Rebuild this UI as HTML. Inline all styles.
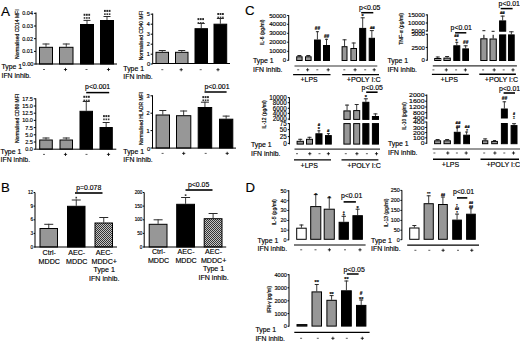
<!DOCTYPE html>
<html><head><meta charset="utf-8"><style>
html,body{margin:0;padding:0;background:#fff;}
body{width:520px;height:341px;overflow:hidden;}
svg{display:block;font-family:"Liberation Sans", sans-serif;}
text{stroke:#000;stroke-width:0.15px;}
.vt{stroke-width:0.18px;}
</style></head><body>
<svg width="520" height="341" viewBox="0 0 520 341">
<defs><pattern id="hatch" width="2" height="2" patternUnits="userSpaceOnUse"><rect width="2" height="2" fill="#c4c4c4"/><rect width="1" height="1" fill="#333"/><rect x="1" y="1" width="1" height="1" fill="#333"/></pattern></defs>
<rect width="520" height="341" fill="#fff"/>
<text x="0.9" y="16.2" font-size="13.5">A</text>
<line x1="36" y1="12.5" x2="36" y2="64.5" stroke="#000" stroke-width="1"/>
<line x1="34" y1="13.3" x2="36" y2="13.3" stroke="#000" stroke-width="1"/>
<text x="33" y="15.23" font-size="5.5" text-anchor="end">0.04</text>
<line x1="34" y1="26" x2="36" y2="26" stroke="#000" stroke-width="1"/>
<text x="33" y="27.93" font-size="5.5" text-anchor="end">0.03</text>
<line x1="34" y1="38.7" x2="36" y2="38.7" stroke="#000" stroke-width="1"/>
<text x="33" y="40.62" font-size="5.5" text-anchor="end">0.02</text>
<line x1="34" y1="51.4" x2="36" y2="51.4" stroke="#000" stroke-width="1"/>
<text x="33" y="53.32" font-size="5.5" text-anchor="end">0.01</text>
<line x1="34" y1="64" x2="36" y2="64" stroke="#000" stroke-width="1"/>
<text x="33.6" y="66.1" font-size="5.8" text-anchor="end">0.00</text>
<text class="vt" transform="translate(19 34.2) rotate(-90)" font-size="5" text-anchor="middle">Normalised CD14 MFI</text>
<line x1="46" y1="46.8" x2="46" y2="43.5" stroke="#3a3a3a" stroke-width="1"/>
<line x1="42.5" y1="44" x2="49.5" y2="44" stroke="#2a2a2a" stroke-width="1"/>
<rect x="39.5" y="47.3" width="13" height="16.7" fill="#979797" stroke="#000" stroke-width="1"/>
<line x1="66.25" y1="46.8" x2="66.25" y2="43.5" stroke="#3a3a3a" stroke-width="1"/>
<line x1="62.75" y1="44" x2="69.75" y2="44" stroke="#2a2a2a" stroke-width="1"/>
<rect x="59.5" y="47.3" width="13.5" height="16.7" fill="#979797" stroke="#000" stroke-width="1"/>
<line x1="87" y1="24" x2="87" y2="19.9" stroke="#3a3a3a" stroke-width="1"/>
<line x1="83.5" y1="20.4" x2="90.5" y2="20.4" stroke="#2a2a2a" stroke-width="1"/>
<rect x="80.5" y="24.5" width="13" height="39.5" fill="#000" stroke="#000" stroke-width="1"/>
<line x1="107" y1="20" x2="107" y2="16" stroke="#3a3a3a" stroke-width="1"/>
<line x1="103.5" y1="16.5" x2="110.5" y2="16.5" stroke="#2a2a2a" stroke-width="1"/>
<rect x="100.5" y="20.5" width="13" height="43.5" fill="#000" stroke="#000" stroke-width="1"/>
<line x1="36" y1="64" x2="117" y2="64" stroke="#000" stroke-width="1"/>
<rect x="83.6" y="13.8" width="1.8" height="2" fill="#2a2a2a"/>
<rect x="85.95" y="13.8" width="1.8" height="2" fill="#2a2a2a"/>
<rect x="88.3" y="13.8" width="1.8" height="2" fill="#2a2a2a"/>
<rect x="83.7" y="17.1" width="1.6" height="1.7" fill="#3a3a3a"/>
<rect x="86.05" y="17.1" width="1.6" height="1.7" fill="#3a3a3a"/>
<rect x="88.4" y="17.1" width="1.6" height="1.7" fill="#3a3a3a"/>
<rect x="104" y="9.9" width="1.8" height="2" fill="#2a2a2a"/>
<rect x="106.35" y="9.9" width="1.8" height="2" fill="#2a2a2a"/>
<rect x="108.7" y="9.9" width="1.8" height="2" fill="#2a2a2a"/>
<rect x="104.1" y="13.3" width="1.6" height="1.7" fill="#3a3a3a"/>
<rect x="106.45" y="13.3" width="1.6" height="1.7" fill="#3a3a3a"/>
<rect x="108.8" y="13.3" width="1.6" height="1.7" fill="#3a3a3a"/>
<text x="1.5" y="68.8" font-size="6.9">Type 1</text>
<text x="1.5" y="77.5" font-size="6.9">IFN inhib.</text>
<line x1="43" y1="69.5" x2="45" y2="69.5" stroke="#333" stroke-width="0.8"/>
<line x1="63.9" y1="69.5" x2="67.1" y2="69.5" stroke="#000" stroke-width="0.8"/>
<line x1="65.5" y1="67.9" x2="65.5" y2="71.1" stroke="#000" stroke-width="0.8"/>
<line x1="85.5" y1="69.5" x2="87.5" y2="69.5" stroke="#333" stroke-width="0.8"/>
<line x1="106.9" y1="69.5" x2="110.1" y2="69.5" stroke="#000" stroke-width="0.8"/>
<line x1="108.5" y1="67.9" x2="108.5" y2="71.1" stroke="#000" stroke-width="0.8"/>
<line x1="152.7" y1="13.5" x2="152.7" y2="64" stroke="#000" stroke-width="1"/>
<line x1="150.7" y1="14.2" x2="152.7" y2="14.2" stroke="#000" stroke-width="1"/>
<text x="149.9" y="16.12" font-size="5.5" text-anchor="end">5</text>
<line x1="150.7" y1="24.2" x2="152.7" y2="24.2" stroke="#000" stroke-width="1"/>
<text x="149.9" y="26.12" font-size="5.5" text-anchor="end">4</text>
<line x1="150.7" y1="34.2" x2="152.7" y2="34.2" stroke="#000" stroke-width="1"/>
<text x="149.9" y="36.12" font-size="5.5" text-anchor="end">3</text>
<line x1="150.7" y1="44.2" x2="152.7" y2="44.2" stroke="#000" stroke-width="1"/>
<text x="149.9" y="46.12" font-size="5.5" text-anchor="end">2</text>
<line x1="150.7" y1="54.2" x2="152.7" y2="54.2" stroke="#000" stroke-width="1"/>
<text x="149.9" y="56.12" font-size="5.5" text-anchor="end">1</text>
<line x1="150.7" y1="64" x2="152.7" y2="64" stroke="#000" stroke-width="1"/>
<text x="150.3" y="65.5" font-size="5.8" text-anchor="end">0</text>
<text class="vt" transform="translate(142.6 35.6) rotate(-90)" font-size="5" text-anchor="middle">Normalised CD40 MFI</text>
<line x1="162.25" y1="51.8" x2="162.25" y2="50" stroke="#3a3a3a" stroke-width="1"/>
<line x1="158.75" y1="50.5" x2="165.75" y2="50.5" stroke="#2a2a2a" stroke-width="1"/>
<rect x="156" y="52.3" width="12.5" height="11.2" fill="#979797" stroke="#000" stroke-width="1"/>
<line x1="181.75" y1="51.8" x2="181.75" y2="50" stroke="#3a3a3a" stroke-width="1"/>
<line x1="178.25" y1="50.5" x2="185.25" y2="50.5" stroke="#2a2a2a" stroke-width="1"/>
<rect x="175.5" y="52.3" width="12.5" height="11.2" fill="#979797" stroke="#000" stroke-width="1"/>
<line x1="201.25" y1="28.2" x2="201.25" y2="23" stroke="#3a3a3a" stroke-width="1"/>
<line x1="197.75" y1="23.5" x2="204.75" y2="23.5" stroke="#2a2a2a" stroke-width="1"/>
<rect x="195" y="28.7" width="12.5" height="34.8" fill="#000" stroke="#000" stroke-width="1"/>
<line x1="220.35" y1="23.7" x2="220.35" y2="18" stroke="#3a3a3a" stroke-width="1"/>
<line x1="216.85" y1="18.5" x2="223.85" y2="18.5" stroke="#2a2a2a" stroke-width="1"/>
<rect x="214" y="24.2" width="12.7" height="39.3" fill="#000" stroke="#000" stroke-width="1"/>
<line x1="152.7" y1="63.5" x2="230" y2="63.5" stroke="#000" stroke-width="1"/>
<rect x="197.5" y="18.1" width="1.8" height="2" fill="#2a2a2a"/>
<rect x="199.85" y="18.1" width="1.8" height="2" fill="#2a2a2a"/>
<rect x="202.2" y="18.1" width="1.8" height="2" fill="#2a2a2a"/>
<rect x="197.6" y="22.1" width="1.6" height="1.7" fill="#3a3a3a"/>
<rect x="199.95" y="22.1" width="1.6" height="1.7" fill="#3a3a3a"/>
<rect x="202.3" y="22.1" width="1.6" height="1.7" fill="#3a3a3a"/>
<rect x="217.3" y="13" width="1.8" height="2" fill="#2a2a2a"/>
<rect x="219.65" y="13" width="1.8" height="2" fill="#2a2a2a"/>
<rect x="222" y="13" width="1.8" height="2" fill="#2a2a2a"/>
<rect x="217.4" y="16.6" width="1.6" height="1.7" fill="#3a3a3a"/>
<rect x="219.75" y="16.6" width="1.6" height="1.7" fill="#3a3a3a"/>
<rect x="222.1" y="16.6" width="1.6" height="1.7" fill="#3a3a3a"/>
<text x="123.3" y="70.6" font-size="6.9">Type 1</text>
<text x="123.3" y="78.6" font-size="6.9">IFN inhib.</text>
<line x1="161.3" y1="69.7" x2="163.3" y2="69.7" stroke="#333" stroke-width="0.8"/>
<line x1="179.6" y1="69.7" x2="182.8" y2="69.7" stroke="#000" stroke-width="0.8"/>
<line x1="181.2" y1="68.1" x2="181.2" y2="71.3" stroke="#000" stroke-width="0.8"/>
<line x1="199.7" y1="69.7" x2="201.7" y2="69.7" stroke="#333" stroke-width="0.8"/>
<line x1="216.4" y1="69.7" x2="219.6" y2="69.7" stroke="#000" stroke-width="0.8"/>
<line x1="218" y1="68.1" x2="218" y2="71.3" stroke="#000" stroke-width="0.8"/>
<line x1="35.8" y1="98.3" x2="35.8" y2="149.6" stroke="#000" stroke-width="1"/>
<line x1="33.8" y1="98.8" x2="35.8" y2="98.8" stroke="#000" stroke-width="1"/>
<text x="32.9" y="100.72" font-size="5.5" text-anchor="end">17.5</text>
<line x1="33.8" y1="106" x2="35.8" y2="106" stroke="#000" stroke-width="1"/>
<text x="32.9" y="107.92" font-size="5.5" text-anchor="end">15.0</text>
<line x1="33.8" y1="113.2" x2="35.8" y2="113.2" stroke="#000" stroke-width="1"/>
<text x="32.9" y="115.12" font-size="5.5" text-anchor="end">12.5</text>
<line x1="33.8" y1="120.4" x2="35.8" y2="120.4" stroke="#000" stroke-width="1"/>
<text x="32.9" y="122.33" font-size="5.5" text-anchor="end">10.0</text>
<line x1="33.8" y1="127.6" x2="35.8" y2="127.6" stroke="#000" stroke-width="1"/>
<text x="32.9" y="129.53" font-size="5.5" text-anchor="end">7.5</text>
<line x1="33.8" y1="134.8" x2="35.8" y2="134.8" stroke="#000" stroke-width="1"/>
<text x="32.9" y="136.73" font-size="5.5" text-anchor="end">5.0</text>
<line x1="33.8" y1="142" x2="35.8" y2="142" stroke="#000" stroke-width="1"/>
<text x="32.9" y="143.93" font-size="5.5" text-anchor="end">2.5</text>
<line x1="33.8" y1="149.2" x2="35.8" y2="149.2" stroke="#000" stroke-width="1"/>
<text x="32.9" y="151.2" font-size="5.5" text-anchor="end">0.0</text>
<text class="vt" transform="translate(19.4 118.4) rotate(-90)" font-size="4.96" text-anchor="middle">Normalised CD80 MFI</text>
<line x1="46" y1="139.5" x2="46" y2="137.5" stroke="#3a3a3a" stroke-width="1"/>
<line x1="42.5" y1="138" x2="49.5" y2="138" stroke="#2a2a2a" stroke-width="1"/>
<rect x="39.7" y="140" width="12.6" height="9.1" fill="#979797" stroke="#000" stroke-width="1"/>
<line x1="66.25" y1="139.5" x2="66.25" y2="137.5" stroke="#3a3a3a" stroke-width="1"/>
<line x1="62.75" y1="138" x2="69.75" y2="138" stroke="#2a2a2a" stroke-width="1"/>
<rect x="60" y="140" width="12.5" height="9.1" fill="#979797" stroke="#000" stroke-width="1"/>
<line x1="86.25" y1="110.8" x2="86.25" y2="101" stroke="#3a3a3a" stroke-width="1"/>
<line x1="82.75" y1="101.5" x2="89.75" y2="101.5" stroke="#2a2a2a" stroke-width="1"/>
<rect x="80" y="111.3" width="12.5" height="37.8" fill="#000" stroke="#000" stroke-width="1"/>
<line x1="106.15" y1="127" x2="106.15" y2="122" stroke="#3a3a3a" stroke-width="1"/>
<line x1="102.65" y1="122.5" x2="109.65" y2="122.5" stroke="#2a2a2a" stroke-width="1"/>
<rect x="100" y="127.5" width="12.3" height="21.6" fill="#000" stroke="#000" stroke-width="1"/>
<line x1="36.2" y1="149.2" x2="116.3" y2="149.2" stroke="#000" stroke-width="1"/>
<rect x="83.3" y="95.8" width="1.8" height="2" fill="#2a2a2a"/>
<rect x="85.65" y="95.8" width="1.8" height="2" fill="#2a2a2a"/>
<rect x="88" y="95.8" width="1.8" height="2" fill="#2a2a2a"/>
<rect x="83.4" y="99.6" width="1.6" height="1.7" fill="#3a3a3a"/>
<rect x="85.75" y="99.6" width="1.6" height="1.7" fill="#3a3a3a"/>
<rect x="88.1" y="99.6" width="1.6" height="1.7" fill="#3a3a3a"/>
<rect x="103.05" y="115.1" width="1.8" height="2" fill="#2a2a2a"/>
<rect x="105.4" y="115.1" width="1.8" height="2" fill="#2a2a2a"/>
<rect x="107.75" y="115.1" width="1.8" height="2" fill="#2a2a2a"/>
<rect x="103.15" y="118.5" width="1.6" height="1.7" fill="#3a3a3a"/>
<rect x="105.5" y="118.5" width="1.6" height="1.7" fill="#3a3a3a"/>
<rect x="107.85" y="118.5" width="1.6" height="1.7" fill="#3a3a3a"/>
<text x="85.1" y="89" font-size="6.9">p&lt;0.001</text>
<line x1="86.2" y1="92.6" x2="109.2" y2="92.6" stroke="#000" stroke-width="1.5"/>
<text x="0.6" y="153.7" font-size="6.9">Type 1</text>
<text x="0.6" y="162" font-size="6.9">IFN inhib.</text>
<line x1="43" y1="154.4" x2="45" y2="154.4" stroke="#333" stroke-width="0.8"/>
<line x1="63.9" y1="154.4" x2="67.1" y2="154.4" stroke="#000" stroke-width="0.8"/>
<line x1="65.5" y1="152.8" x2="65.5" y2="156" stroke="#000" stroke-width="0.8"/>
<line x1="85.5" y1="154.4" x2="87.5" y2="154.4" stroke="#333" stroke-width="0.8"/>
<line x1="106.9" y1="154.4" x2="110.1" y2="154.4" stroke="#000" stroke-width="0.8"/>
<line x1="108.5" y1="152.8" x2="108.5" y2="156" stroke="#000" stroke-width="0.8"/>
<line x1="152.5" y1="95.3" x2="152.5" y2="148.5" stroke="#000" stroke-width="1"/>
<line x1="150.5" y1="95.8" x2="152.5" y2="95.8" stroke="#000" stroke-width="1"/>
<text x="149.7" y="97.76" font-size="5.6" text-anchor="end">3</text>
<line x1="150.5" y1="113.2" x2="152.5" y2="113.2" stroke="#000" stroke-width="1"/>
<text x="149.7" y="115.16" font-size="5.6" text-anchor="end">2</text>
<line x1="150.5" y1="130.6" x2="152.5" y2="130.6" stroke="#000" stroke-width="1"/>
<text x="149.7" y="132.56" font-size="5.6" text-anchor="end">1</text>
<line x1="150.5" y1="148" x2="152.5" y2="148" stroke="#000" stroke-width="1"/>
<text x="150.2" y="150.8" font-size="5.8" text-anchor="end">0</text>
<text class="vt" transform="translate(142.6 118.6) rotate(-90)" font-size="4.95" text-anchor="middle">Normalised HLADR MFI</text>
<line x1="162.8" y1="114.5" x2="162.8" y2="110" stroke="#3a3a3a" stroke-width="1"/>
<line x1="159.3" y1="110.5" x2="166.3" y2="110.5" stroke="#2a2a2a" stroke-width="1"/>
<rect x="156.1" y="115" width="13.4" height="33" fill="#979797" stroke="#000" stroke-width="1"/>
<line x1="183.65" y1="115.2" x2="183.65" y2="110.5" stroke="#3a3a3a" stroke-width="1"/>
<line x1="180.15" y1="111" x2="187.15" y2="111" stroke="#2a2a2a" stroke-width="1"/>
<rect x="176.5" y="115.7" width="14.3" height="32.3" fill="#979797" stroke="#000" stroke-width="1"/>
<line x1="204.95" y1="107" x2="204.95" y2="101.7" stroke="#3a3a3a" stroke-width="1"/>
<line x1="200.95" y1="102.2" x2="208.95" y2="102.2" stroke="#2a2a2a" stroke-width="1"/>
<rect x="198.2" y="107.5" width="13.5" height="40.5" fill="#000" stroke="#000" stroke-width="1"/>
<line x1="226.15" y1="118.7" x2="226.15" y2="115.6" stroke="#3a3a3a" stroke-width="1"/>
<line x1="222.65" y1="116.1" x2="229.65" y2="116.1" stroke="#2a2a2a" stroke-width="1"/>
<rect x="219.5" y="119.2" width="13.3" height="28.8" fill="#000" stroke="#000" stroke-width="1"/>
<line x1="152.5" y1="148.1" x2="236" y2="148.1" stroke="#000" stroke-width="1"/>
<rect x="202.35" y="96.1" width="1.8" height="2" fill="#2a2a2a"/>
<rect x="204.7" y="96.1" width="1.8" height="2" fill="#2a2a2a"/>
<rect x="207.05" y="96.1" width="1.8" height="2" fill="#2a2a2a"/>
<rect x="202.45" y="99.4" width="1.6" height="1.7" fill="#3a3a3a"/>
<rect x="204.8" y="99.4" width="1.6" height="1.7" fill="#3a3a3a"/>
<rect x="207.15" y="99.4" width="1.6" height="1.7" fill="#3a3a3a"/>
<text x="204.4" y="88.5" font-size="6.9">p&lt;0.001</text>
<line x1="204.5" y1="92" x2="226.6" y2="92" stroke="#000" stroke-width="1.5"/>
<text x="123.3" y="153.8" font-size="6.9">Type 1</text>
<text x="123.3" y="162.1" font-size="6.9">IFN inhib.</text>
<line x1="161.6" y1="153.4" x2="163.6" y2="153.4" stroke="#333" stroke-width="0.8"/>
<line x1="182.1" y1="153.4" x2="185.3" y2="153.4" stroke="#000" stroke-width="0.8"/>
<line x1="183.7" y1="151.8" x2="183.7" y2="155" stroke="#000" stroke-width="0.8"/>
<line x1="204.7" y1="153.4" x2="206.7" y2="153.4" stroke="#333" stroke-width="0.8"/>
<line x1="225.6" y1="153.4" x2="228.8" y2="153.4" stroke="#000" stroke-width="0.8"/>
<line x1="227.2" y1="151.8" x2="227.2" y2="155" stroke="#000" stroke-width="0.8"/>
<text x="0.9" y="191.9" font-size="13.2">B</text>
<line x1="35" y1="192.5" x2="35" y2="247.5" stroke="#000" stroke-width="1"/>
<line x1="33.6" y1="192.5" x2="35" y2="192.5" stroke="#000" stroke-width="1"/>
<text x="33.1" y="194.11" font-size="4.6" text-anchor="end">12</text>
<line x1="33.6" y1="206.1" x2="35" y2="206.1" stroke="#000" stroke-width="1"/>
<text x="33.1" y="207.71" font-size="4.6" text-anchor="end">9</text>
<line x1="33.6" y1="219.8" x2="35" y2="219.8" stroke="#000" stroke-width="1"/>
<text x="33.1" y="221.41" font-size="4.6" text-anchor="end">6</text>
<line x1="33.6" y1="233.4" x2="35" y2="233.4" stroke="#000" stroke-width="1"/>
<text x="33.1" y="235.01" font-size="4.6" text-anchor="end">3</text>
<line x1="33.6" y1="247" x2="35" y2="247" stroke="#000" stroke-width="1"/>
<text x="33.1" y="248.61" font-size="4.6" text-anchor="end">0</text>
<line x1="48.75" y1="228" x2="48.75" y2="223.8" stroke="#3a3a3a" stroke-width="1"/>
<line x1="44.25" y1="224.3" x2="53.25" y2="224.3" stroke="#2a2a2a" stroke-width="1"/>
<rect x="40" y="228.5" width="17.5" height="18.5" fill="#979797" stroke="#000" stroke-width="1"/>
<line x1="76.25" y1="205.8" x2="76.25" y2="199.5" stroke="#3a3a3a" stroke-width="1"/>
<line x1="71.75" y1="200" x2="80.75" y2="200" stroke="#2a2a2a" stroke-width="1"/>
<rect x="67.5" y="206.3" width="17.5" height="40.7" fill="#000" stroke="#000" stroke-width="1"/>
<line x1="103.75" y1="222.5" x2="103.75" y2="217" stroke="#3a3a3a" stroke-width="1"/>
<line x1="99.25" y1="217.5" x2="108.25" y2="217.5" stroke="#2a2a2a" stroke-width="1"/>
<rect x="95" y="223" width="17.5" height="24" fill="url(#hatch)" stroke="#000" stroke-width="1"/>
<line x1="35" y1="247" x2="117" y2="247" stroke="#000" stroke-width="1"/>
<rect x="75.45" y="196.8" width="1.6" height="1.7" fill="#3a3a3a"/>
<text x="76.2" y="189.6" font-size="6.9">p=0.078</text>
<line x1="75" y1="193" x2="102.5" y2="193" stroke="#000" stroke-width="1.6"/>
<text x="49.25" y="255" font-size="7.1" text-anchor="middle">Ctrl-</text>
<text x="49.25" y="263.55" font-size="7.1" text-anchor="middle">MDDC</text>
<text x="76.75" y="255" font-size="7.1" text-anchor="middle">AEC-</text>
<text x="76.75" y="263.55" font-size="7.1" text-anchor="middle">MDDC</text>
<text x="104.25" y="255" font-size="7.1" text-anchor="middle">AEC-</text>
<text x="104.25" y="263.55" font-size="7.1" text-anchor="middle">MDDC+</text>
<text x="104.25" y="272.1" font-size="7.1" text-anchor="middle">Type 1</text>
<text x="104.25" y="280.65" font-size="7.1" text-anchor="middle">IFN inhib.</text>
<line x1="144.2" y1="192.5" x2="144.2" y2="247.5" stroke="#000" stroke-width="1"/>
<line x1="142.8" y1="192.5" x2="144.2" y2="192.5" stroke="#000" stroke-width="1"/>
<text x="142.3" y="194.11" font-size="4.6" text-anchor="end">200</text>
<line x1="142.8" y1="206.1" x2="144.2" y2="206.1" stroke="#000" stroke-width="1"/>
<text x="142.3" y="207.71" font-size="4.6" text-anchor="end">150</text>
<line x1="142.8" y1="219.8" x2="144.2" y2="219.8" stroke="#000" stroke-width="1"/>
<text x="142.3" y="221.41" font-size="4.6" text-anchor="end">100</text>
<line x1="142.8" y1="233.4" x2="144.2" y2="233.4" stroke="#000" stroke-width="1"/>
<text x="142.3" y="235.01" font-size="4.6" text-anchor="end">50</text>
<line x1="142.8" y1="247" x2="144.2" y2="247" stroke="#000" stroke-width="1"/>
<text x="142.3" y="248.61" font-size="4.6" text-anchor="end">0</text>
<line x1="158.1" y1="223.8" x2="158.1" y2="219.3" stroke="#3a3a3a" stroke-width="1"/>
<line x1="153.6" y1="219.8" x2="162.6" y2="219.8" stroke="#2a2a2a" stroke-width="1"/>
<rect x="149.2" y="224.3" width="17.8" height="22.7" fill="#979797" stroke="#000" stroke-width="1"/>
<line x1="185.6" y1="203.8" x2="185.6" y2="197" stroke="#3a3a3a" stroke-width="1"/>
<line x1="181.1" y1="197.5" x2="190.1" y2="197.5" stroke="#2a2a2a" stroke-width="1"/>
<rect x="176.7" y="204.3" width="17.8" height="42.7" fill="#000" stroke="#000" stroke-width="1"/>
<line x1="213.1" y1="218.2" x2="213.1" y2="213" stroke="#3a3a3a" stroke-width="1"/>
<line x1="208.6" y1="213.5" x2="217.6" y2="213.5" stroke="#2a2a2a" stroke-width="1"/>
<rect x="204.2" y="218.7" width="17.8" height="28.3" fill="url(#hatch)" stroke="#000" stroke-width="1"/>
<line x1="144.2" y1="247" x2="226.2" y2="247" stroke="#000" stroke-width="1"/>
<rect x="184.8" y="194.3" width="1.6" height="1.7" fill="#3a3a3a"/>
<text x="188" y="186.6" font-size="6.9">p&lt;0.05</text>
<line x1="185.5" y1="190" x2="212.5" y2="190" stroke="#000" stroke-width="1.6"/>
<text x="158.6" y="254" font-size="7.1" text-anchor="middle">Ctrl-</text>
<text x="158.6" y="262.55" font-size="7.1" text-anchor="middle">MDDC</text>
<text x="186.1" y="254" font-size="7.1" text-anchor="middle">AEC-</text>
<text x="186.1" y="262.55" font-size="7.1" text-anchor="middle">MDDC</text>
<text x="213.6" y="254" font-size="7.1" text-anchor="middle">AEC-</text>
<text x="213.6" y="262.55" font-size="7.1" text-anchor="middle">MDDC+</text>
<text x="213.6" y="271.1" font-size="7.1" text-anchor="middle">Type 1</text>
<text x="213.6" y="279.65" font-size="7.1" text-anchor="middle">IFN inhib.</text>
<text x="245.1" y="15.4" font-size="13.2">C</text>
<line x1="288.7" y1="15.2" x2="288.7" y2="60.6" stroke="#000" stroke-width="1"/>
<line x1="287.2" y1="15.5" x2="288.7" y2="15.5" stroke="#000" stroke-width="1"/>
<text x="286.1" y="17.63" font-size="6.1" text-anchor="end">50000</text>
<line x1="287.2" y1="24.3" x2="288.7" y2="24.3" stroke="#000" stroke-width="1"/>
<text x="286.1" y="26.44" font-size="6.1" text-anchor="end">40000</text>
<line x1="287.2" y1="33.3" x2="288.7" y2="33.3" stroke="#000" stroke-width="1"/>
<text x="286.1" y="35.43" font-size="6.1" text-anchor="end">30000</text>
<line x1="287.2" y1="42.2" x2="288.7" y2="42.2" stroke="#000" stroke-width="1"/>
<text x="286.1" y="44.34" font-size="6.1" text-anchor="end">20000</text>
<line x1="287.2" y1="51.3" x2="288.7" y2="51.3" stroke="#000" stroke-width="1"/>
<text x="286.1" y="53.43" font-size="6.1" text-anchor="end">10000</text>
<line x1="287.2" y1="60.3" x2="288.7" y2="60.3" stroke="#000" stroke-width="1"/>
<text x="286.1" y="62.43" font-size="6.1" text-anchor="end">0</text>
<text class="vt" transform="translate(263.6 32.3) rotate(-90)" font-size="5" text-anchor="middle">IL-6 (pg/ml)</text>
<line x1="299.4" y1="56.3" x2="299.4" y2="55" stroke="#3a3a3a" stroke-width="1"/>
<line x1="297.4" y1="55.5" x2="301.4" y2="55.5" stroke="#2a2a2a" stroke-width="1"/>
<rect x="296.7" y="56.8" width="5.4" height="3.7" fill="#979797" stroke="#000" stroke-width="1"/>
<line x1="308.3" y1="56.3" x2="308.3" y2="55" stroke="#3a3a3a" stroke-width="1"/>
<line x1="306.3" y1="55.5" x2="310.3" y2="55.5" stroke="#2a2a2a" stroke-width="1"/>
<rect x="305.5" y="56.8" width="5.6" height="3.7" fill="#979797" stroke="#000" stroke-width="1"/>
<line x1="317.4" y1="39.5" x2="317.4" y2="31.2" stroke="#3a3a3a" stroke-width="1"/>
<line x1="315.9" y1="31.7" x2="318.9" y2="31.7" stroke="#2a2a2a" stroke-width="1"/>
<rect x="314.5" y="40" width="5.8" height="20.5" fill="#000" stroke="#000" stroke-width="1"/>
<line x1="326.5" y1="45" x2="326.5" y2="38.8" stroke="#3a3a3a" stroke-width="1"/>
<line x1="325" y1="39.3" x2="328" y2="39.3" stroke="#2a2a2a" stroke-width="1"/>
<rect x="323.5" y="45.5" width="6" height="15" fill="#000" stroke="#000" stroke-width="1"/>
<line x1="344.55" y1="46.2" x2="344.55" y2="39.3" stroke="#3a3a3a" stroke-width="1"/>
<line x1="342.55" y1="39.8" x2="346.55" y2="39.8" stroke="#2a2a2a" stroke-width="1"/>
<rect x="342.1" y="46.7" width="4.9" height="13.8" fill="#979797" stroke="#000" stroke-width="1"/>
<line x1="353.7" y1="48" x2="353.7" y2="42.5" stroke="#3a3a3a" stroke-width="1"/>
<line x1="351.7" y1="43" x2="355.7" y2="43" stroke="#2a2a2a" stroke-width="1"/>
<rect x="350.9" y="48.5" width="5.6" height="12" fill="#979797" stroke="#000" stroke-width="1"/>
<line x1="362.7" y1="27.9" x2="362.7" y2="17.3" stroke="#3a3a3a" stroke-width="1"/>
<line x1="360.7" y1="17.8" x2="364.7" y2="17.8" stroke="#2a2a2a" stroke-width="1"/>
<rect x="359.7" y="28.4" width="6" height="32.1" fill="#000" stroke="#000" stroke-width="1"/>
<line x1="371.85" y1="37.8" x2="371.85" y2="30.1" stroke="#3a3a3a" stroke-width="1"/>
<line x1="369.85" y1="30.6" x2="373.85" y2="30.6" stroke="#2a2a2a" stroke-width="1"/>
<rect x="369.2" y="38.3" width="5.3" height="22.2" fill="#000" stroke="#000" stroke-width="1"/>
<text x="317.5" y="29.9" font-size="4.8" text-anchor="middle" font-weight="bold">##</text>
<text x="326.6" y="37.9" font-size="4.8" text-anchor="middle" font-weight="bold">##</text>
<text x="362.7" y="18.32" font-size="5.52" text-anchor="middle" font-weight="bold">*</text>
<text x="372.3" y="29.2" font-size="4.3" text-anchor="middle" font-weight="bold">##</text>
<text x="359.1" y="9.7" font-size="6.9">p&lt;0.05</text>
<line x1="361.2" y1="12.7" x2="373.3" y2="12.7" stroke="#000" stroke-width="1.5"/>
<line x1="294.5" y1="66" x2="377.3" y2="66" stroke="#333" stroke-width="1.1"/>
<text x="253" y="62.7" font-size="6.9">Type 1</text>
<text x="253" y="71.7" font-size="6.9">IFN inhib.</text>
<line x1="297.2" y1="69.8" x2="299.2" y2="69.8" stroke="#333" stroke-width="0.8"/>
<line x1="306" y1="69.8" x2="309.2" y2="69.8" stroke="#000" stroke-width="0.8"/>
<line x1="307.6" y1="68.2" x2="307.6" y2="71.4" stroke="#000" stroke-width="0.8"/>
<line x1="316.3" y1="69.8" x2="318.3" y2="69.8" stroke="#333" stroke-width="0.8"/>
<line x1="326.6" y1="69.8" x2="329.8" y2="69.8" stroke="#000" stroke-width="0.8"/>
<line x1="328.2" y1="68.2" x2="328.2" y2="71.4" stroke="#000" stroke-width="0.8"/>
<line x1="343.3" y1="69.8" x2="345.3" y2="69.8" stroke="#333" stroke-width="0.8"/>
<line x1="353.5" y1="69.8" x2="356.7" y2="69.8" stroke="#000" stroke-width="0.8"/>
<line x1="355.1" y1="68.2" x2="355.1" y2="71.4" stroke="#000" stroke-width="0.8"/>
<line x1="364.2" y1="69.8" x2="366.2" y2="69.8" stroke="#333" stroke-width="0.8"/>
<line x1="372.6" y1="69.8" x2="375.8" y2="69.8" stroke="#000" stroke-width="0.8"/>
<line x1="374.2" y1="68.2" x2="374.2" y2="71.4" stroke="#000" stroke-width="0.8"/>
<line x1="293.1" y1="74.6" x2="330.5" y2="74.6" stroke="#000" stroke-width="1.4"/>
<line x1="342.2" y1="74.6" x2="379" y2="74.6" stroke="#000" stroke-width="1.4"/>
<text x="300.6" y="82.4" font-size="6.9">+LPS</text>
<text x="346.7" y="82.4" font-size="6.9" textLength="34" lengthAdjust="spacingAndGlyphs">+POLY I:C</text>
<line x1="427.3" y1="14.4" x2="427.3" y2="31.6" stroke="#000" stroke-width="1"/>
<line x1="427.3" y1="33.6" x2="427.3" y2="60.6" stroke="#000" stroke-width="1"/>
<line x1="425.8" y1="14.9" x2="427.4" y2="14.9" stroke="#000" stroke-width="1"/>
<text x="425" y="17" font-size="6.1" text-anchor="end">15000</text>
<line x1="425.8" y1="23" x2="427.4" y2="23" stroke="#000" stroke-width="1"/>
<text x="425" y="25.1" font-size="6.1" text-anchor="end">10000</text>
<line x1="425.8" y1="30.9" x2="427.4" y2="30.9" stroke="#000" stroke-width="1"/>
<text x="425" y="33" font-size="6.1" text-anchor="end">5000</text>
<line x1="425.8" y1="34.3" x2="427.4" y2="34.3" stroke="#000" stroke-width="1"/>
<text x="425" y="36.4" font-size="6.1" text-anchor="end">5000</text>
<line x1="425.8" y1="47.4" x2="427.4" y2="47.4" stroke="#000" stroke-width="1"/>
<text x="425" y="49.5" font-size="6.1" text-anchor="end">2500</text>
<line x1="425.8" y1="60.2" x2="427.4" y2="60.2" stroke="#000" stroke-width="1"/>
<text x="425" y="62.3" font-size="6.1" text-anchor="end">0</text>
<text class="vt" transform="translate(403.2 28.9) rotate(-90)" font-size="5.1" text-anchor="middle">TNF-α (pg/ml)</text>
<line x1="437.75" y1="58" x2="437.75" y2="56.5" stroke="#3a3a3a" stroke-width="1"/>
<line x1="435.75" y1="57" x2="439.75" y2="57" stroke="#2a2a2a" stroke-width="1"/>
<rect x="434.7" y="58.5" width="6.1" height="2" fill="#979797" stroke="#000" stroke-width="1"/>
<line x1="447.1" y1="57.6" x2="447.1" y2="56" stroke="#3a3a3a" stroke-width="1"/>
<line x1="445.1" y1="56.5" x2="449.1" y2="56.5" stroke="#2a2a2a" stroke-width="1"/>
<rect x="443.9" y="58.1" width="6.4" height="2.4" fill="#979797" stroke="#000" stroke-width="1"/>
<line x1="456.8" y1="45.3" x2="456.8" y2="41.8" stroke="#3a3a3a" stroke-width="1"/>
<line x1="455.3" y1="42.3" x2="458.3" y2="42.3" stroke="#2a2a2a" stroke-width="1"/>
<rect x="453.8" y="45.8" width="6" height="14.7" fill="#000" stroke="#000" stroke-width="1"/>
<line x1="465.65" y1="48.4" x2="465.65" y2="45.3" stroke="#3a3a3a" stroke-width="1"/>
<line x1="463.65" y1="45.8" x2="467.65" y2="45.8" stroke="#2a2a2a" stroke-width="1"/>
<rect x="462.8" y="48.9" width="5.7" height="11.6" fill="#000" stroke="#000" stroke-width="1"/>
<line x1="483.9" y1="38.3" x2="483.9" y2="34.8" stroke="#000" stroke-width="1"/>
<line x1="493.15" y1="38.5" x2="493.15" y2="34.8" stroke="#000" stroke-width="1"/>
<rect x="480.8" y="38.8" width="6.2" height="21.7" fill="#979797" stroke="#000" stroke-width="1"/>
<rect x="490" y="39" width="6.3" height="21.5" fill="#979797" stroke="#000" stroke-width="1"/>
<line x1="502.65" y1="20.4" x2="502.65" y2="15.6" stroke="#3a3a3a" stroke-width="1"/>
<line x1="500.65" y1="16.1" x2="504.65" y2="16.1" stroke="#2a2a2a" stroke-width="1"/>
<rect x="499.6" y="20.9" width="6.1" height="10.3" fill="#000" stroke="#000" stroke-width="1"/>
<rect x="499.6" y="34.9" width="6.1" height="25.6" fill="#000" stroke="#000" stroke-width="1"/>
<line x1="511.35" y1="34.4" x2="511.35" y2="31.3" stroke="#3a3a3a" stroke-width="1"/>
<line x1="509.1" y1="31.8" x2="513.6" y2="31.8" stroke="#2a2a2a" stroke-width="1"/>
<rect x="508.5" y="34.9" width="5.7" height="25.6" fill="#000" stroke="#000" stroke-width="1"/>
<text x="456.5" y="37.3" font-size="4" text-anchor="middle" font-weight="bold">##</text>
<text x="456.5" y="42.88" font-size="4.6" text-anchor="middle" font-weight="bold">*</text>
<text x="465.7" y="44" font-size="4.8" text-anchor="middle" font-weight="bold">##</text>
<text x="502.3" y="14" font-size="4.3" text-anchor="middle" font-weight="bold">##</text>
<line x1="482.4" y1="30.7" x2="485.4" y2="30.7" stroke="#000" stroke-width="0.9"/>
<line x1="491.6" y1="31.3" x2="494.6" y2="31.3" stroke="#000" stroke-width="0.9"/>
<text x="450.6" y="30.4" font-size="6.9">p&lt;0.01</text>
<line x1="455.1" y1="32.8" x2="466.3" y2="32.8" stroke="#000" stroke-width="1.5"/>
<text x="498.6" y="5.9" font-size="6.9">p&lt;0.01</text>
<line x1="500.7" y1="8.6" x2="512.6" y2="8.6" stroke="#000" stroke-width="1.5"/>
<line x1="432.8" y1="65.9" x2="516.9" y2="65.9" stroke="#333" stroke-width="1.1"/>
<text x="387.5" y="62.9" font-size="6.9">Type 1</text>
<text x="387.5" y="71.7" font-size="6.9">IFN inhib.</text>
<line x1="432.4" y1="69.9" x2="434.4" y2="69.9" stroke="#333" stroke-width="0.8"/>
<line x1="444.7" y1="69.9" x2="447.9" y2="69.9" stroke="#000" stroke-width="0.8"/>
<line x1="446.3" y1="68.3" x2="446.3" y2="71.5" stroke="#000" stroke-width="0.8"/>
<line x1="455.1" y1="69.9" x2="457.1" y2="69.9" stroke="#333" stroke-width="0.8"/>
<line x1="463.8" y1="69.9" x2="467" y2="69.9" stroke="#000" stroke-width="0.8"/>
<line x1="465.4" y1="68.3" x2="465.4" y2="71.5" stroke="#000" stroke-width="0.8"/>
<line x1="482.1" y1="69.9" x2="484.1" y2="69.9" stroke="#333" stroke-width="0.8"/>
<line x1="492.6" y1="69.9" x2="495.8" y2="69.9" stroke="#000" stroke-width="0.8"/>
<line x1="494.2" y1="68.3" x2="494.2" y2="71.5" stroke="#000" stroke-width="0.8"/>
<line x1="502.7" y1="69.9" x2="504.7" y2="69.9" stroke="#333" stroke-width="0.8"/>
<line x1="511.4" y1="69.9" x2="514.6" y2="69.9" stroke="#000" stroke-width="0.8"/>
<line x1="513" y1="68.3" x2="513" y2="71.5" stroke="#000" stroke-width="0.8"/>
<line x1="431.9" y1="74.4" x2="468.7" y2="74.4" stroke="#000" stroke-width="1.4"/>
<line x1="479.3" y1="74.2" x2="515.9" y2="74.2" stroke="#000" stroke-width="1.4"/>
<text x="440.5" y="82.1" font-size="7.1" textLength="17.6" lengthAdjust="spacingAndGlyphs">+LPS</text>
<text x="484.8" y="82.1" font-size="7" textLength="33.3" lengthAdjust="spacingAndGlyphs">+POLY I:C</text>
<line x1="289.4" y1="97.4" x2="289.4" y2="120.2" stroke="#000" stroke-width="1"/>
<line x1="289.4" y1="123.1" x2="289.4" y2="144.4" stroke="#000" stroke-width="1"/>
<line x1="287.8" y1="97.6" x2="289.4" y2="97.6" stroke="#000" stroke-width="1"/>
<text x="286.7" y="99.8" font-size="6.3" text-anchor="end">10000</text>
<line x1="287.8" y1="102.7" x2="289.4" y2="102.7" stroke="#000" stroke-width="1"/>
<text x="286.7" y="104.9" font-size="6.3" text-anchor="end">8000</text>
<line x1="287.8" y1="108.3" x2="289.4" y2="108.3" stroke="#000" stroke-width="1"/>
<text x="286.7" y="110.5" font-size="6.3" text-anchor="end">6000</text>
<line x1="287.8" y1="113.4" x2="289.4" y2="113.4" stroke="#000" stroke-width="1"/>
<text x="286.7" y="115.6" font-size="6.3" text-anchor="end">4000</text>
<line x1="287.8" y1="119.1" x2="289.4" y2="119.1" stroke="#000" stroke-width="1"/>
<text x="286.7" y="121.3" font-size="6.3" text-anchor="end">2000</text>
<line x1="287.8" y1="123.6" x2="289.4" y2="123.6" stroke="#000" stroke-width="1"/>
<text x="286.7" y="125.8" font-size="6.3" text-anchor="end">75</text>
<line x1="287.8" y1="129.6" x2="289.4" y2="129.6" stroke="#000" stroke-width="1"/>
<text x="286.7" y="131.8" font-size="6.3" text-anchor="end">50</text>
<line x1="287.8" y1="136.6" x2="289.4" y2="136.6" stroke="#000" stroke-width="1"/>
<text x="286.7" y="138.8" font-size="6.3" text-anchor="end">25</text>
<line x1="287.8" y1="143.4" x2="289.4" y2="143.4" stroke="#000" stroke-width="1"/>
<text x="286.7" y="145.6" font-size="6.3" text-anchor="end">0</text>
<text class="vt" transform="translate(266 114.6) rotate(-90)" font-size="5" text-anchor="middle">IL-12 (pg/ml)</text>
<line x1="300.25" y1="140.8" x2="300.25" y2="138.8" stroke="#3a3a3a" stroke-width="1"/>
<line x1="298.25" y1="139.3" x2="302.25" y2="139.3" stroke="#2a2a2a" stroke-width="1"/>
<rect x="297.1" y="141.3" width="6.3" height="2.8" fill="#979797" stroke="#000" stroke-width="1"/>
<line x1="309.5" y1="138.8" x2="309.5" y2="136.8" stroke="#3a3a3a" stroke-width="1"/>
<line x1="307.5" y1="137.3" x2="311.5" y2="137.3" stroke="#2a2a2a" stroke-width="1"/>
<rect x="306.5" y="139.3" width="6" height="4.8" fill="#979797" stroke="#000" stroke-width="1"/>
<line x1="318.95" y1="133.3" x2="318.95" y2="130.3" stroke="#3a3a3a" stroke-width="1"/>
<line x1="317.45" y1="130.8" x2="320.45" y2="130.8" stroke="#2a2a2a" stroke-width="1"/>
<rect x="315.9" y="133.8" width="6.1" height="10.3" fill="#000" stroke="#000" stroke-width="1"/>
<line x1="328.4" y1="135.1" x2="328.4" y2="133.1" stroke="#3a3a3a" stroke-width="1"/>
<line x1="326.9" y1="133.6" x2="329.9" y2="133.6" stroke="#2a2a2a" stroke-width="1"/>
<rect x="325.5" y="135.6" width="5.8" height="8.5" fill="#000" stroke="#000" stroke-width="1"/>
<line x1="347.05" y1="110.4" x2="347.05" y2="104.6" stroke="#3a3a3a" stroke-width="1"/>
<line x1="345.05" y1="105.1" x2="349.05" y2="105.1" stroke="#2a2a2a" stroke-width="1"/>
<rect x="343.9" y="110.9" width="6.3" height="8.5" fill="#979797" stroke="#000" stroke-width="1"/>
<rect x="343.9" y="123.6" width="6.3" height="20.5" fill="#979797" stroke="#000" stroke-width="1"/>
<line x1="356.7" y1="110.1" x2="356.7" y2="104" stroke="#3a3a3a" stroke-width="1"/>
<line x1="354.7" y1="104.5" x2="358.7" y2="104.5" stroke="#2a2a2a" stroke-width="1"/>
<rect x="353.7" y="110.6" width="6" height="8.8" fill="#979797" stroke="#000" stroke-width="1"/>
<rect x="353.7" y="123.6" width="6" height="20.5" fill="#979797" stroke="#000" stroke-width="1"/>
<line x1="365.85" y1="101.8" x2="365.85" y2="98.3" stroke="#3a3a3a" stroke-width="1"/>
<line x1="363.85" y1="98.8" x2="367.85" y2="98.8" stroke="#2a2a2a" stroke-width="1"/>
<rect x="362.8" y="102.3" width="6.1" height="17.1" fill="#000" stroke="#000" stroke-width="1"/>
<rect x="362.8" y="123.6" width="6.1" height="20.5" fill="#000" stroke="#000" stroke-width="1"/>
<line x1="375.45" y1="116" x2="375.45" y2="113.4" stroke="#3a3a3a" stroke-width="1"/>
<line x1="373.45" y1="113.9" x2="377.45" y2="113.9" stroke="#2a2a2a" stroke-width="1"/>
<rect x="372.4" y="116.5" width="6.1" height="2.9" fill="#000" stroke="#000" stroke-width="1"/>
<rect x="372.4" y="123.6" width="6.1" height="20.5" fill="#000" stroke="#000" stroke-width="1"/>
<text x="318.8" y="125.6" font-size="4.2" text-anchor="middle" font-weight="bold">#</text>
<text x="318.8" y="131.12" font-size="5.52" text-anchor="middle" font-weight="bold">*</text>
<text x="328.2" y="132.3" font-size="4.2" text-anchor="middle" font-weight="bold">#</text>
<text x="365.9" y="98.62" font-size="5.52" text-anchor="middle" font-weight="bold">*</text>
<text x="361.6" y="90.2" font-size="6.9">p&lt;0.05</text>
<line x1="366.2" y1="92.2" x2="377.6" y2="92.2" stroke="#000" stroke-width="1.6"/>
<line x1="294.5" y1="149.1" x2="380" y2="149.1" stroke="#333" stroke-width="1.1"/>
<text x="251" y="147.4" font-size="6.9">Type 1</text>
<text x="251" y="155.9" font-size="6.9">IFN inhib.</text>
<line x1="296" y1="153.7" x2="298" y2="153.7" stroke="#333" stroke-width="0.8"/>
<line x1="308.2" y1="153.7" x2="311.4" y2="153.7" stroke="#000" stroke-width="0.8"/>
<line x1="309.8" y1="152.1" x2="309.8" y2="155.3" stroke="#000" stroke-width="0.8"/>
<line x1="318.5" y1="153.7" x2="320.5" y2="153.7" stroke="#333" stroke-width="0.8"/>
<line x1="326.8" y1="153.7" x2="330" y2="153.7" stroke="#000" stroke-width="0.8"/>
<line x1="328.4" y1="152.1" x2="328.4" y2="155.3" stroke="#000" stroke-width="0.8"/>
<line x1="344.8" y1="153.7" x2="346.8" y2="153.7" stroke="#333" stroke-width="0.8"/>
<line x1="355.3" y1="153.7" x2="358.5" y2="153.7" stroke="#000" stroke-width="0.8"/>
<line x1="356.9" y1="152.1" x2="356.9" y2="155.3" stroke="#000" stroke-width="0.8"/>
<line x1="365.9" y1="153.7" x2="367.9" y2="153.7" stroke="#333" stroke-width="0.8"/>
<line x1="374.9" y1="153.7" x2="378.1" y2="153.7" stroke="#000" stroke-width="0.8"/>
<line x1="376.5" y1="152.1" x2="376.5" y2="155.3" stroke="#000" stroke-width="0.8"/>
<line x1="294" y1="159.9" x2="331" y2="159.9" stroke="#000" stroke-width="1.4"/>
<line x1="341.5" y1="159.9" x2="378.4" y2="159.9" stroke="#000" stroke-width="1.4"/>
<text x="300.6" y="168.4" font-size="6.9" textLength="17.3" lengthAdjust="spacingAndGlyphs">+LPS</text>
<text x="347.3" y="168.4" font-size="7" textLength="33.5" lengthAdjust="spacingAndGlyphs">+POLY I:C</text>
<line x1="426.8" y1="94.5" x2="426.8" y2="119.3" stroke="#000" stroke-width="1"/>
<line x1="426.8" y1="121.6" x2="426.8" y2="143.8" stroke="#000" stroke-width="1"/>
<line x1="425.2" y1="95.3" x2="426.8" y2="95.3" stroke="#000" stroke-width="1"/>
<text x="424.6" y="97.3" font-size="5.9" text-anchor="end" textLength="15.48" lengthAdjust="spacingAndGlyphs">2000</text>
<line x1="425.2" y1="101.2" x2="426.8" y2="101.2" stroke="#000" stroke-width="1"/>
<text x="424.6" y="103.2" font-size="5.9" text-anchor="end" textLength="15.48" lengthAdjust="spacingAndGlyphs">1600</text>
<line x1="425.2" y1="107" x2="426.8" y2="107" stroke="#000" stroke-width="1"/>
<text x="424.6" y="109" font-size="5.9" text-anchor="end" textLength="15.48" lengthAdjust="spacingAndGlyphs">1200</text>
<line x1="425.2" y1="112.7" x2="426.8" y2="112.7" stroke="#000" stroke-width="1"/>
<text x="424.6" y="114.7" font-size="5.9" text-anchor="end" textLength="11.61" lengthAdjust="spacingAndGlyphs">800</text>
<line x1="425.2" y1="117.9" x2="426.8" y2="117.9" stroke="#000" stroke-width="1"/>
<text x="424.6" y="119.9" font-size="5.9" text-anchor="end" textLength="11.61" lengthAdjust="spacingAndGlyphs">400</text>
<line x1="425.2" y1="122" x2="426.8" y2="122" stroke="#000" stroke-width="1"/>
<text x="424.6" y="124" font-size="5.9" text-anchor="end" textLength="11.61" lengthAdjust="spacingAndGlyphs">400</text>
<line x1="425.2" y1="127.5" x2="426.8" y2="127.5" stroke="#000" stroke-width="1"/>
<text x="424.6" y="129.5" font-size="5.9" text-anchor="end" textLength="11.61" lengthAdjust="spacingAndGlyphs">300</text>
<line x1="425.2" y1="132.6" x2="426.8" y2="132.6" stroke="#000" stroke-width="1"/>
<text x="424.6" y="134.6" font-size="5.9" text-anchor="end" textLength="11.61" lengthAdjust="spacingAndGlyphs">200</text>
<line x1="425.2" y1="137.8" x2="426.8" y2="137.8" stroke="#000" stroke-width="1"/>
<text x="424.6" y="139.8" font-size="5.9" text-anchor="end" textLength="11.61" lengthAdjust="spacingAndGlyphs">100</text>
<line x1="425.2" y1="143.2" x2="426.8" y2="143.2" stroke="#000" stroke-width="1"/>
<text x="424.6" y="145.2" font-size="5.9" text-anchor="end" textLength="3.87" lengthAdjust="spacingAndGlyphs">0</text>
<text class="vt" transform="translate(406 116) rotate(-90)" font-size="4.9" text-anchor="middle">IL-10 (pg/ml)</text>
<line x1="437.6" y1="140.3" x2="437.6" y2="139" stroke="#3a3a3a" stroke-width="1"/>
<line x1="435.6" y1="139.5" x2="439.6" y2="139.5" stroke="#2a2a2a" stroke-width="1"/>
<rect x="434.6" y="140.8" width="6" height="2.9" fill="#979797" stroke="#000" stroke-width="1"/>
<line x1="447.2" y1="140.3" x2="447.2" y2="139" stroke="#3a3a3a" stroke-width="1"/>
<line x1="445.2" y1="139.5" x2="449.2" y2="139.5" stroke="#2a2a2a" stroke-width="1"/>
<rect x="444" y="140.8" width="6.4" height="2.9" fill="#979797" stroke="#000" stroke-width="1"/>
<line x1="457.2" y1="131.8" x2="457.2" y2="127.6" stroke="#3a3a3a" stroke-width="1"/>
<line x1="456.2" y1="128.1" x2="458.2" y2="128.1" stroke="#2a2a2a" stroke-width="1"/>
<rect x="454.3" y="132.3" width="5.8" height="11.4" fill="#000" stroke="#000" stroke-width="1"/>
<line x1="466.6" y1="134.7" x2="466.6" y2="131.5" stroke="#3a3a3a" stroke-width="1"/>
<line x1="465.1" y1="132" x2="468.1" y2="132" stroke="#2a2a2a" stroke-width="1"/>
<rect x="463.7" y="135.2" width="5.8" height="8.5" fill="#000" stroke="#000" stroke-width="1"/>
<line x1="485.15" y1="140.3" x2="485.15" y2="138.4" stroke="#3a3a3a" stroke-width="1"/>
<line x1="483.15" y1="138.9" x2="487.15" y2="138.9" stroke="#2a2a2a" stroke-width="1"/>
<rect x="482.5" y="140.8" width="5.3" height="2.9" fill="#979797" stroke="#000" stroke-width="1"/>
<line x1="494.55" y1="140.9" x2="494.55" y2="140" stroke="#3a3a3a" stroke-width="1"/>
<line x1="493.05" y1="140.5" x2="496.05" y2="140.5" stroke="#2a2a2a" stroke-width="1"/>
<rect x="491.7" y="141.4" width="5.7" height="2.3" fill="#979797" stroke="#000" stroke-width="1"/>
<line x1="504.35" y1="108.5" x2="504.35" y2="101.3" stroke="#3a3a3a" stroke-width="1"/>
<line x1="502.6" y1="101.8" x2="506.1" y2="101.8" stroke="#2a2a2a" stroke-width="1"/>
<rect x="501.4" y="109" width="5.9" height="9" fill="#000" stroke="#000" stroke-width="1"/>
<rect x="501.4" y="123.5" width="5.9" height="20.2" fill="#000" stroke="#000" stroke-width="1"/>
<line x1="514.05" y1="125.1" x2="514.05" y2="123.2" stroke="#3a3a3a" stroke-width="1"/>
<line x1="512.05" y1="123.7" x2="516.05" y2="123.7" stroke="#2a2a2a" stroke-width="1"/>
<rect x="511.1" y="125.6" width="5.9" height="18.1" fill="#000" stroke="#000" stroke-width="1"/>
<text x="457.9" y="124.1" font-size="4.3" text-anchor="middle" font-weight="bold">##</text>
<text x="457.9" y="127.6" font-size="3.6" text-anchor="middle" font-weight="bold">##</text>
<text x="467.2" y="128.3" font-size="4.2" text-anchor="middle" font-weight="bold">##</text>
<text x="467.2" y="132.4" font-size="4.37" text-anchor="middle" font-weight="bold">*</text>
<text x="504.5" y="100" font-size="5" text-anchor="middle" font-weight="bold">##</text>
<text x="514" y="115" font-size="3.6" text-anchor="middle" font-weight="bold">#</text>
<text x="514" y="118.93" font-size="4.2" text-anchor="middle" font-weight="bold">‡</text>
<text x="498.9" y="90.8" font-size="6.9">p&lt;0.01</text>
<line x1="503.6" y1="93" x2="515" y2="93" stroke="#000" stroke-width="1.6"/>
<line x1="432.6" y1="149" x2="520" y2="149" stroke="#333" stroke-width="1.1"/>
<text x="388" y="146.4" font-size="6.9">Type 1</text>
<text x="388" y="154.6" font-size="6.9">IFN inhib.</text>
<line x1="433.4" y1="153" x2="435.4" y2="153" stroke="#333" stroke-width="0.8"/>
<line x1="446.2" y1="153" x2="449.4" y2="153" stroke="#000" stroke-width="0.8"/>
<line x1="447.8" y1="151.4" x2="447.8" y2="154.6" stroke="#000" stroke-width="0.8"/>
<line x1="455.9" y1="153" x2="457.9" y2="153" stroke="#333" stroke-width="0.8"/>
<line x1="464.6" y1="153" x2="467.8" y2="153" stroke="#000" stroke-width="0.8"/>
<line x1="466.2" y1="151.4" x2="466.2" y2="154.6" stroke="#000" stroke-width="0.8"/>
<line x1="483.2" y1="153" x2="485.2" y2="153" stroke="#333" stroke-width="0.8"/>
<line x1="493.3" y1="153" x2="496.5" y2="153" stroke="#000" stroke-width="0.8"/>
<line x1="494.9" y1="151.4" x2="494.9" y2="154.6" stroke="#000" stroke-width="0.8"/>
<line x1="503.3" y1="153" x2="505.3" y2="153" stroke="#333" stroke-width="0.8"/>
<line x1="511.9" y1="153" x2="515.1" y2="153" stroke="#000" stroke-width="0.8"/>
<line x1="513.5" y1="151.4" x2="513.5" y2="154.6" stroke="#000" stroke-width="0.8"/>
<line x1="433" y1="159.3" x2="470" y2="159.3" stroke="#000" stroke-width="1.4"/>
<line x1="480.5" y1="159.3" x2="519" y2="159.3" stroke="#000" stroke-width="1.4"/>
<text x="441.8" y="166.8" font-size="7.1" textLength="17.4" lengthAdjust="spacingAndGlyphs">+LPS</text>
<text x="486.4" y="167.2" font-size="7" textLength="33.8" lengthAdjust="spacingAndGlyphs">+POLY I:C</text>
<text x="245.4" y="191.7" font-size="13.2">D</text>
<line x1="288.8" y1="190.2" x2="288.8" y2="240.2" stroke="#000" stroke-width="1"/>
<line x1="287.3" y1="190.8" x2="288.8" y2="190.8" stroke="#000" stroke-width="1"/>
<text x="286.6" y="192.69" font-size="5.4" text-anchor="end">50</text>
<line x1="287.3" y1="200.7" x2="288.8" y2="200.7" stroke="#000" stroke-width="1"/>
<text x="286.6" y="202.59" font-size="5.4" text-anchor="end">40</text>
<line x1="287.3" y1="210.5" x2="288.8" y2="210.5" stroke="#000" stroke-width="1"/>
<text x="286.6" y="212.39" font-size="5.4" text-anchor="end">30</text>
<line x1="287.3" y1="220.5" x2="288.8" y2="220.5" stroke="#000" stroke-width="1"/>
<text x="286.6" y="222.39" font-size="5.4" text-anchor="end">20</text>
<line x1="287.3" y1="230.2" x2="288.8" y2="230.2" stroke="#000" stroke-width="1"/>
<text x="286.6" y="232.09" font-size="5.4" text-anchor="end">10</text>
<line x1="287.3" y1="239.9" x2="288.8" y2="239.9" stroke="#000" stroke-width="1"/>
<text x="286.6" y="241.79" font-size="5.4" text-anchor="end">0</text>
<text class="vt" transform="translate(276.2 212.3) rotate(-90)" font-size="5.1" text-anchor="middle">IL-5 (pg/ml)</text>
<line x1="301.45" y1="227.7" x2="301.45" y2="224.5" stroke="#3a3a3a" stroke-width="1"/>
<line x1="299.45" y1="225" x2="303.45" y2="225" stroke="#2a2a2a" stroke-width="1"/>
<rect x="296.7" y="228.2" width="9.5" height="11.1" fill="#fff" stroke="#000" stroke-width="1"/>
<line x1="315.75" y1="206.1" x2="315.75" y2="194.1" stroke="#3a3a3a" stroke-width="1"/>
<line x1="313.75" y1="194.6" x2="317.75" y2="194.6" stroke="#2a2a2a" stroke-width="1"/>
<rect x="310.7" y="206.6" width="10.1" height="32.7" fill="#979797" stroke="#000" stroke-width="1"/>
<line x1="329.25" y1="208.7" x2="329.25" y2="197.3" stroke="#3a3a3a" stroke-width="1"/>
<line x1="327.25" y1="197.8" x2="331.25" y2="197.8" stroke="#2a2a2a" stroke-width="1"/>
<rect x="324.2" y="209.2" width="10.1" height="30.1" fill="#979797" stroke="#000" stroke-width="1"/>
<line x1="343.75" y1="221.8" x2="343.75" y2="215.8" stroke="#3a3a3a" stroke-width="1"/>
<line x1="341.55" y1="216.3" x2="345.95" y2="216.3" stroke="#2a2a2a" stroke-width="1"/>
<rect x="339.1" y="222.3" width="9.3" height="17" fill="#000" stroke="#000" stroke-width="1"/>
<line x1="357.65" y1="215.2" x2="357.65" y2="208.7" stroke="#3a3a3a" stroke-width="1"/>
<line x1="355.65" y1="209.2" x2="359.65" y2="209.2" stroke="#2a2a2a" stroke-width="1"/>
<rect x="352.9" y="215.7" width="9.5" height="23.6" fill="#000" stroke="#000" stroke-width="1"/>
<text x="315.8" y="196.52" font-size="5.52" text-anchor="middle" font-weight="bold">*</text>
<text x="329.3" y="199.72" font-size="5.52" text-anchor="middle" font-weight="bold">*</text>
<text x="343.7" y="214.89" font-size="4.6" text-anchor="middle" font-weight="bold">‡</text>
<text x="357.7" y="210.42" font-size="5.52" text-anchor="middle" font-weight="bold">*</text>
<text x="341" y="198.2" font-size="6.9">p&lt;0.01</text>
<line x1="343.6" y1="201.9" x2="355.9" y2="201.9" stroke="#000" stroke-width="1.6"/>
<line x1="294" y1="245" x2="365.6" y2="245" stroke="#000" stroke-width="1.2"/>
<text x="257.6" y="243.1" font-size="6.9">Type 1</text>
<text x="257.6" y="251.3" font-size="6.9">IFN inhib.</text>
<line x1="300.2" y1="249.8" x2="302.2" y2="249.8" stroke="#333" stroke-width="0.8"/>
<line x1="314.5" y1="249.8" x2="316.5" y2="249.8" stroke="#333" stroke-width="0.8"/>
<line x1="327.8" y1="249.8" x2="331" y2="249.8" stroke="#000" stroke-width="0.8"/>
<line x1="329.4" y1="248.2" x2="329.4" y2="251.4" stroke="#000" stroke-width="0.8"/>
<line x1="344" y1="249.8" x2="346" y2="249.8" stroke="#333" stroke-width="0.8"/>
<line x1="358.4" y1="249.8" x2="361.6" y2="249.8" stroke="#000" stroke-width="0.8"/>
<line x1="360" y1="248.2" x2="360" y2="251.4" stroke="#000" stroke-width="0.8"/>
<line x1="401.9" y1="190.2" x2="401.9" y2="239.9" stroke="#000" stroke-width="1"/>
<line x1="400.4" y1="190.4" x2="401.9" y2="190.4" stroke="#000" stroke-width="1"/>
<text x="399.7" y="192.29" font-size="5.4" text-anchor="end">250</text>
<line x1="400.4" y1="200.4" x2="401.9" y2="200.4" stroke="#000" stroke-width="1"/>
<text x="399.7" y="202.29" font-size="5.4" text-anchor="end">200</text>
<line x1="400.4" y1="210.4" x2="401.9" y2="210.4" stroke="#000" stroke-width="1"/>
<text x="399.7" y="212.29" font-size="5.4" text-anchor="end">150</text>
<line x1="400.4" y1="220.4" x2="401.9" y2="220.4" stroke="#000" stroke-width="1"/>
<text x="399.7" y="222.29" font-size="5.4" text-anchor="end">100</text>
<line x1="400.4" y1="230.2" x2="401.9" y2="230.2" stroke="#000" stroke-width="1"/>
<text x="399.7" y="232.09" font-size="5.4" text-anchor="end">50</text>
<line x1="400.4" y1="239.7" x2="401.9" y2="239.7" stroke="#000" stroke-width="1"/>
<text x="399.7" y="241.59" font-size="5.4" text-anchor="end">0</text>
<text class="vt" transform="translate(388.2 213) rotate(-90)" font-size="5.1" text-anchor="middle">IL-13 (pg/ml)</text>
<line x1="414.35" y1="227.5" x2="414.35" y2="225" stroke="#3a3a3a" stroke-width="1"/>
<line x1="412.35" y1="225.5" x2="416.35" y2="225.5" stroke="#2a2a2a" stroke-width="1"/>
<rect x="409.7" y="228" width="9.3" height="11.3" fill="#fff" stroke="#000" stroke-width="1"/>
<line x1="428.7" y1="203.2" x2="428.7" y2="195.3" stroke="#3a3a3a" stroke-width="1"/>
<line x1="426.7" y1="195.8" x2="430.7" y2="195.8" stroke="#2a2a2a" stroke-width="1"/>
<rect x="424.1" y="203.7" width="9.2" height="35.6" fill="#979797" stroke="#000" stroke-width="1"/>
<line x1="442.9" y1="204" x2="442.9" y2="196.5" stroke="#3a3a3a" stroke-width="1"/>
<line x1="440.9" y1="197" x2="444.9" y2="197" stroke="#2a2a2a" stroke-width="1"/>
<rect x="438.5" y="204.5" width="8.8" height="34.8" fill="#979797" stroke="#000" stroke-width="1"/>
<line x1="457.05" y1="219.6" x2="457.05" y2="213.6" stroke="#3a3a3a" stroke-width="1"/>
<line x1="455.05" y1="214.1" x2="459.05" y2="214.1" stroke="#2a2a2a" stroke-width="1"/>
<rect x="452.7" y="220.1" width="8.7" height="19.2" fill="#000" stroke="#000" stroke-width="1"/>
<line x1="470.95" y1="213.7" x2="470.95" y2="208.2" stroke="#3a3a3a" stroke-width="1"/>
<line x1="469.45" y1="208.7" x2="472.45" y2="208.7" stroke="#2a2a2a" stroke-width="1"/>
<rect x="466.6" y="214.2" width="8.7" height="25.1" fill="#000" stroke="#000" stroke-width="1"/>
<text x="428.7" y="195" font-size="4.37" text-anchor="middle" font-weight="bold">**</text>
<text x="442.9" y="196.2" font-size="3.5" text-anchor="middle" font-weight="bold">##</text>
<text x="457" y="213.57" font-size="4.02" text-anchor="middle" font-weight="bold">*</text>
<text x="457" y="210.3" font-size="3.5" text-anchor="middle" font-weight="bold">##</text>
<text x="457" y="207.28" font-size="3.2" text-anchor="middle" font-weight="bold">‡</text>
<text x="470.9" y="208" font-size="3.6" text-anchor="middle" font-weight="bold">##</text>
<text x="470.9" y="203.9" font-size="3.6" text-anchor="middle" font-weight="bold">##</text>
<text x="452.9" y="194.4" font-size="6.9">p&lt;0.01</text>
<line x1="457" y1="197.9" x2="467.3" y2="197.9" stroke="#000" stroke-width="1.6"/>
<line x1="407.2" y1="245.1" x2="479" y2="245.1" stroke="#000" stroke-width="1.2"/>
<text x="371.1" y="243" font-size="6.9">Type 1</text>
<text x="371.1" y="251.4" font-size="6.9">IFN inhib.</text>
<line x1="414.4" y1="250.3" x2="416.4" y2="250.3" stroke="#333" stroke-width="0.8"/>
<line x1="428.3" y1="250.3" x2="430.3" y2="250.3" stroke="#333" stroke-width="0.8"/>
<line x1="441.5" y1="250.3" x2="444.7" y2="250.3" stroke="#000" stroke-width="0.8"/>
<line x1="443.1" y1="248.7" x2="443.1" y2="251.9" stroke="#000" stroke-width="0.8"/>
<line x1="457" y1="250.3" x2="459" y2="250.3" stroke="#333" stroke-width="0.8"/>
<line x1="470.2" y1="250.3" x2="473.4" y2="250.3" stroke="#000" stroke-width="0.8"/>
<line x1="471.8" y1="248.7" x2="471.8" y2="251.9" stroke="#000" stroke-width="0.8"/>
<line x1="289" y1="274.2" x2="289" y2="326.6" stroke="#000" stroke-width="1"/>
<line x1="287.5" y1="274.7" x2="289" y2="274.7" stroke="#000" stroke-width="1"/>
<text x="286.9" y="276.66" font-size="5.6" text-anchor="end">4000</text>
<line x1="287.5" y1="287.8" x2="289" y2="287.8" stroke="#000" stroke-width="1"/>
<text x="286.9" y="289.76" font-size="5.6" text-anchor="end">3000</text>
<line x1="287.5" y1="300.8" x2="289" y2="300.8" stroke="#000" stroke-width="1"/>
<text x="286.9" y="302.76" font-size="5.6" text-anchor="end">2000</text>
<line x1="287.5" y1="313.6" x2="289" y2="313.6" stroke="#000" stroke-width="1"/>
<text x="286.9" y="315.56" font-size="5.6" text-anchor="end">1000</text>
<line x1="287.5" y1="326.2" x2="289" y2="326.2" stroke="#000" stroke-width="1"/>
<text x="286.9" y="328.16" font-size="5.6" text-anchor="end">0</text>
<text class="vt" transform="translate(271.2 299.4) rotate(-90)" font-size="4.6" text-anchor="middle">IFN-γ (pg/ml)</text>
<rect x="297" y="324.6" width="9.9" height="1.5" fill="#222" stroke="#000" stroke-width="1"/>
<line x1="316.75" y1="291.4" x2="316.75" y2="284" stroke="#3a3a3a" stroke-width="1"/>
<line x1="314.75" y1="284.5" x2="318.75" y2="284.5" stroke="#2a2a2a" stroke-width="1"/>
<rect x="312" y="291.9" width="9.5" height="34.2" fill="#979797" stroke="#000" stroke-width="1"/>
<line x1="331.6" y1="299.8" x2="331.6" y2="295.1" stroke="#3a3a3a" stroke-width="1"/>
<line x1="329.6" y1="295.6" x2="333.6" y2="295.6" stroke="#2a2a2a" stroke-width="1"/>
<rect x="326.9" y="300.3" width="9.4" height="25.8" fill="#979797" stroke="#000" stroke-width="1"/>
<line x1="346.4" y1="290.3" x2="346.4" y2="280.5" stroke="#3a3a3a" stroke-width="1"/>
<line x1="344.4" y1="281" x2="348.4" y2="281" stroke="#2a2a2a" stroke-width="1"/>
<rect x="341.5" y="290.8" width="9.8" height="35.3" fill="#000" stroke="#000" stroke-width="1"/>
<line x1="361.2" y1="304.9" x2="361.2" y2="299.5" stroke="#3a3a3a" stroke-width="1"/>
<line x1="359.2" y1="300" x2="363.2" y2="300" stroke="#2a2a2a" stroke-width="1"/>
<rect x="356.5" y="305.4" width="9.4" height="20.7" fill="#000" stroke="#000" stroke-width="1"/>
<text x="316.7" y="283.52" font-size="5.52" text-anchor="middle" font-weight="bold">**</text>
<text x="331.6" y="295.62" font-size="5.52" text-anchor="middle" font-weight="bold">**</text>
<text x="346.4" y="281.22" font-size="5.52" text-anchor="middle" font-weight="bold">**</text>
<text x="361.2" y="301.02" font-size="5.52" text-anchor="middle" font-weight="bold">**</text>
<text x="361.2" y="295" font-size="4.8" text-anchor="middle" font-weight="bold">#</text>
<text x="343.4" y="271.5" font-size="7" textLength="21.4" lengthAdjust="spacingAndGlyphs">p&lt;0.05</text>
<line x1="346.8" y1="274" x2="358.6" y2="274" stroke="#000" stroke-width="1.5"/>
<line x1="294.3" y1="332.3" x2="369.6" y2="332.3" stroke="#000" stroke-width="1.2"/>
<text x="255.4" y="332.4" font-size="6.9">Type 1</text>
<text x="255.4" y="340.8" font-size="6.9">IFN inhib.</text>
<line x1="300.1" y1="338.3" x2="302.1" y2="338.3" stroke="#333" stroke-width="0.8"/>
<line x1="316.8" y1="338.3" x2="318.8" y2="338.3" stroke="#333" stroke-width="0.8"/>
<line x1="331.3" y1="338.3" x2="334.5" y2="338.3" stroke="#000" stroke-width="0.8"/>
<line x1="332.9" y1="336.7" x2="332.9" y2="339.9" stroke="#000" stroke-width="0.8"/>
<line x1="345.8" y1="338.3" x2="347.8" y2="338.3" stroke="#333" stroke-width="0.8"/>
<line x1="360.7" y1="338.3" x2="363.9" y2="338.3" stroke="#000" stroke-width="0.8"/>
<line x1="362.3" y1="336.7" x2="362.3" y2="339.9" stroke="#000" stroke-width="0.8"/>
</svg>
</body></html>
